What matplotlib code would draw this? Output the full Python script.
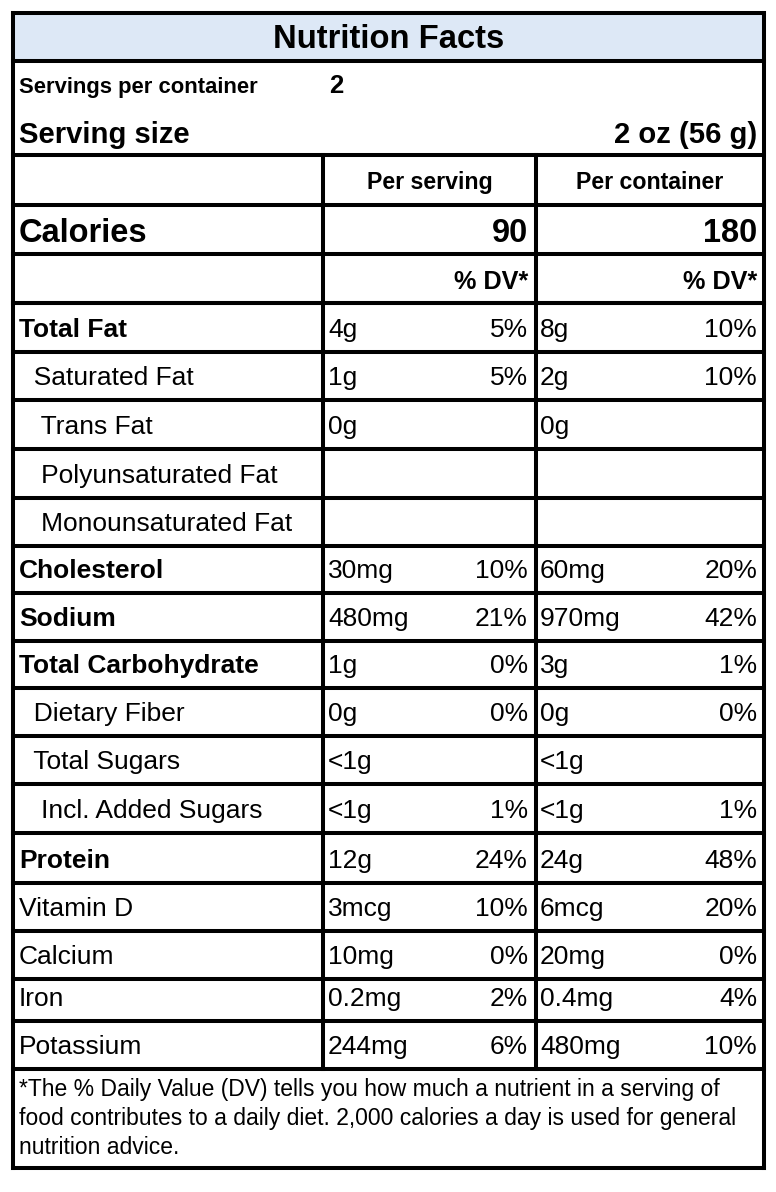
import matplotlib
matplotlib.use("Agg")
import matplotlib.pyplot as plt
from matplotlib import font_manager

# 数据
title = "Nutrition Facts"
servings_label = "Servings per container"
servings_value = "2"
size_label = "Serving size"
size_value = "2 oz (56 g)"
col_headers = ["Per serving", "Per container"]
calories = ["90", "180"]
dv_header = "% DV*"

nutrients = ["Total Fat", "  Saturated Fat", "   Trans Fat", "   Polyunsaturated Fat",
             "   Monounsaturated Fat", "Cholesterol", "Sodium", "Total Carbohydrate",
             "  Dietary Fiber", "  Total Sugars", "   Incl. Added Sugars", "Protein",
             "Vitamin D", "Calcium", "Iron", "Potassium"]
bold_rows = ["Total Fat", "Cholesterol", "Sodium", "Total Carbohydrate", "Protein"]
serving_amount = ["4g", "1g", "0g", "", "", "30mg", "480mg", "1g", "0g", "<1g", "<1g",
                  "12g", "3mcg", "10mg", "0.2mg", "244mg"]
serving_dv = ["5%", "5%", "", "", "", "10%", "21%", "0%", "0%", "", "1%", "24%",
              "10%", "0%", "2%", "6%"]
container_amount = ["8g", "2g", "0g", "", "", "60mg", "970mg", "3g", "0g", "<1g", "<1g",
                    "24g", "6mcg", "20mg", "0.4mg", "480mg"]
container_dv = ["10%", "10%", "", "", "", "20%", "42%", "1%", "0%", "", "1%", "48%",
                "20%", "0%", "4%", "10%"]
footnote = ["*The % Daily Value (DV) tells you how much a nutrient in a serving of",
            "food contributes to a daily diet. 2,000 calories a day is used for general",
            "nutrition advice."]

# 字体
names = {f.name for f in font_manager.fontManager.ttflist}
FONT = "Liberation Sans" if "Liberation Sans" in names else "DejaVu Sans"
NARROW = "Liberation Sans Narrow" if "Liberation Sans Narrow" in names else None
plt.rcParams['font.family'] = [FONT, 'DejaVu Sans']

# 表格的像素布局
W, H = 776, 1192
x_left, x_c1, x_c2, x_right = 13, 323, 536, 764
y_title = (13, 61)
y_serv = (61, 155)
y_head = (155, 205)
y_cal = (205, 254)
y_dv = (254, 303)
nutrient_lines = [303, 352, 400, 449, 498, 546, 593, 641, 688, 736, 784, 833, 883,
                  931, 979, 1021, 1069]
y_bottom = 1168
LW = 2.9
BODY = 19

fig = plt.figure(figsize=(W / 100, H / 100), dpi=100)
ax = fig.add_axes([0, 0, 1, 1])
ax.set_xlim(0, W)
ax.set_ylim(H, 0)
ax.axis('off')

# 标题背景
ax.add_patch(plt.Rectangle((x_left, y_title[0]), x_right - x_left, y_title[1] - y_title[0],
                           facecolor='#dde8f6', edgecolor='none'))

def hline(y, x0=x_left, x1=x_right):
    ax.plot([x0, x1], [y, y], color='black', lw=LW, solid_capstyle='projecting')

def vline(x, y0, y1):
    ax.plot([x, x], [y0, y1], color='black', lw=LW, solid_capstyle='projecting')

# 外框和横线
for y in [y_title[0], y_title[1], y_serv[1], y_head[1], y_cal[1], y_dv[1]] + nutrient_lines + [y_bottom]:
    hline(y)
vline(x_left, y_title[0], y_bottom)
vline(x_right, y_title[0], y_bottom)
vline(x_c1, y_head[0], nutrient_lines[-1])
vline(x_c2, y_head[0], nutrient_lines[-1])

# 标题
ax.text((x_left + x_right) / 2, y_title[1] - 13, title, ha='center', va='baseline',
        fontsize=23.6, fontweight='bold')
if NARROW:
    ax.text(19, 93, servings_label, ha='left', va='baseline', fontsize=18.5,
            fontweight='bold', family=[NARROW, FONT])
else:
    ax.text(19, 93, servings_label, ha='left', va='baseline', fontsize=15.8,
            fontweight='bold')
ax.text(329, 93, servings_value, ha='left', va='baseline', fontsize=18.5,
        fontweight='bold')
ax.text(19, 143, size_label, ha='left', va='baseline', fontsize=21.1, fontweight='bold')
ax.text(757, 143, size_value, ha='right', va='baseline', fontsize=21.1, fontweight='bold')

# 列标题
ax.text((x_c1 + x_c2) / 2, y_head[1] - 16, col_headers[0], ha='center', va='baseline',
        fontsize=16.7, fontweight='bold')
ax.text((x_c2 + x_right) / 2, y_head[1] - 16, col_headers[1], ha='center', va='baseline',
        fontsize=16.7, fontweight='bold')

# 热量
ax.text(19, y_cal[1] - 12, "Calories", ha='left', va='baseline', fontsize=23.5,
        fontweight='bold')
ax.text(528, y_cal[1] - 12, calories[0], ha='right', va='baseline', fontsize=23.5,
        fontweight='bold')
ax.text(757, y_cal[1] - 12, calories[1], ha='right', va='baseline', fontsize=23.5,
        fontweight='bold')

ax.text(528, y_dv[1] - 14, dv_header, ha='right', va='baseline', fontsize=18.2,
        fontweight='bold')
ax.text(757, y_dv[1] - 14, dv_header, ha='right', va='baseline', fontsize=18.2,
        fontweight='bold')

# 营养成分行
for i, name in enumerate(nutrients):
    yb = nutrient_lines[i + 1] - 15
    weight = 'bold' if name.strip() in bold_rows else 'normal'
    ax.text(19, yb, name, ha='left', va='baseline', fontsize=BODY, fontweight=weight)
    ax.text(328, yb, serving_amount[i], ha='left', va='baseline', fontsize=BODY)
    ax.text(528, yb, serving_dv[i], ha='right', va='baseline', fontsize=BODY)
    ax.text(540, yb, container_amount[i], ha='left', va='baseline', fontsize=BODY)
    ax.text(757, yb, container_dv[i], ha='right', va='baseline', fontsize=BODY)

# 脚注
for k, line in enumerate(footnote):
    ax.text(19, 1096 + 29 * k, line, ha='left', va='baseline', fontsize=16.5)

plt.savefig("out.png", dpi=100, facecolor='white')
plt.close()
